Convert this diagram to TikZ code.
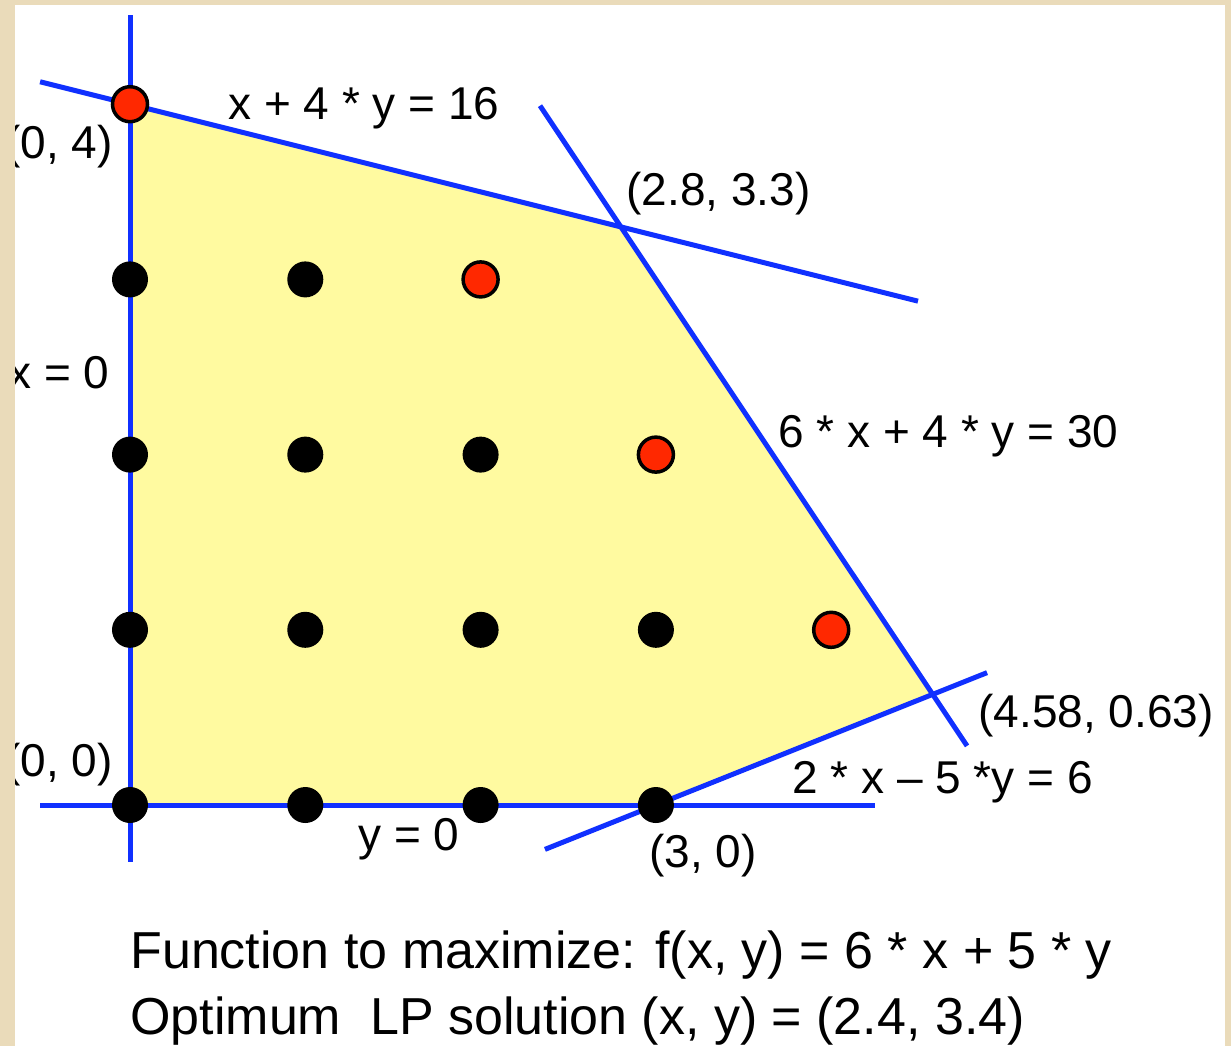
\documentclass[tikz,border=0pt]{standalone}
\usepackage{fontspec}
\setmainfont{Liberation Sans}
\definecolor{beige}{RGB}{234,219,186}
\definecolor{lpblue}{RGB}{16,48,255}
\definecolor{lpyellow}{RGB}{255,250,160}
\definecolor{lpred}{RGB}{255,40,0}
\tikzset{
  cline/.style={draw=lpblue, line width=2.5pt},
  bdot/.style={circle, fill=black, inner sep=0pt, minimum size=18pt},
  rdot/.style={circle, fill=lpred, draw=black, line width=1.75pt, inner sep=0pt, minimum size=17.5pt},
  lbl/.style={font=\fontsize{23}{27}\selectfont, inner sep=0pt},
  captext/.style={font=\fontsize{26}{31}\selectfont, inner sep=0pt}
}
\begin{document}
\begin{tikzpicture}[x=0.5pt,y=-0.5pt]
\useasboundingbox (0,0) rectangle (1231,1046);
\fill[beige] (0,0) rectangle (1231,1046);
\fill[white] (15,5) rectangle (1225,1046);
\begin{scope}
\clip (15,5) rectangle (1225,1046);
\begin{scope}[shift={(65pt,-402.5pt)}, x=87.65pt, y=87.6pt]
  % feasible region
  \fill[lpyellow] (0,0) -- (3,0) -- (4.5789,0.6316) -- (2.8,3.3) -- (0,4) -- cycle;
  % line end points
  \coordinate (xa) at (0,4.509);     \coordinate (xb) at (0,-0.325);
  \coordinate (ya) at (-0.513,0);    \coordinate (yb) at (4.25,0);
  \coordinate (ca) at (-0.513,4.128);\coordinate (cb) at (4.495,2.876);
  \coordinate (da) at (2.339,3.9915);\coordinate (db) at (4.775,0.3375);
  \coordinate (ea) at (2.367,-0.2532);\coordinate (eb) at (4.889,0.7556);
  \draw[cline] (xa) -- (xb);
  \draw[cline] (ya) -- (yb);
  \draw[cline] (ca) -- (cb);
  \draw[cline] (da) -- (db);
  \draw[cline] (ea) -- (eb);
  % integer points
  \node[bdot] (p03) at (0,3) {};
  \node[bdot] (p13) at (1,3) {};
  \node[rdot] (p23) at (2,3) {};
  \node[bdot] (p02) at (0,2) {};
  \node[bdot] (p12) at (1,2) {};
  \node[bdot] (p22) at (2,2) {};
  \node[rdot] (p32) at (3,2) {};
  \node[bdot] (p01) at (0,1) {};
  \node[bdot] (p11) at (1,1) {};
  \node[bdot] (p21) at (2,1) {};
  \node[bdot] (p31) at (3,1) {};
  \node[rdot] (p41) at (4,1) {};
  \node[bdot] (p00) at (0,0) {};
  \node[bdot] (p10) at (1,0) {};
  \node[bdot] (p20) at (2,0) {};
  \node[bdot] (p30) at (3,0) {};
  \node[rdot] (p04) at (0,4) {};
\end{scope}
% labels
\node[lbl, anchor=base west] (l1) at (228,119) {x + 4 * y = 16};
\node[lbl, anchor=base east] (l2) at (113,158) {(0, 4)};
\node[lbl, anchor=base west] (l3) at (626,205) {(2.8, 3.3)};
\node[lbl, anchor=base east] (l4) at (110,388) {x = 0};
\node[lbl, anchor=base west] (l5) at (778,447) {6 * x + 4 * y = 30};
\node[lbl, anchor=base west] (l6) at (978,727) {(4.58, 0.63)};
\node[lbl, anchor=base east] (l7) at (113,776) {(0, 0)};
\node[lbl, anchor=base west] (l8) at (792,793) {2 * x – 5 *y = 6};
\node[lbl, anchor=base west] (l9) at (358,850) {y = 0};
\node[lbl, anchor=base west] (l10) at (649,867) {(3, 0)};
\node[captext, anchor=base west] (c1) at (130,968) {Function to maximize: f(x, y) = 6 * x + 5 * y};
\node[captext, anchor=base west] (c2) at (130,1034) {Optimum\ \ LP solution (x, y) = (2.4, 3.4)};
\end{scope}
\end{tikzpicture}
\end{document}
